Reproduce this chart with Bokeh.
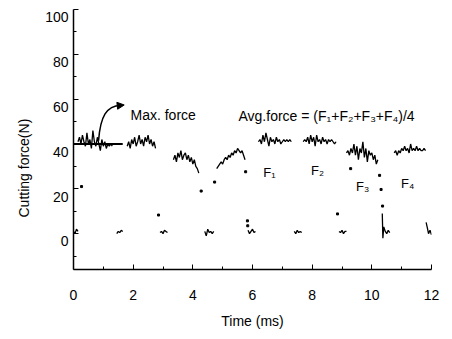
import math
from bokeh.plotting import figure
from bokeh.models import Range1d, FixedTicker, Label, Arrow, NormalHead, LinearAxis, Title
from bokeh.embed import file_html
from bokeh.resources import INLINE

FONT = "Liberation Sans"

x_ticks = [0, 2, 4, 6, 8, 10, 12]
x_minor = [1, 3, 5, 7, 9, 11]
y_ticks = [0, 20, 40, 60, 80, 100]
y_minor = [-10, 10, 30, 50, 70, 90]

# high (cutting) segments: time (ms), force (N)
seg1_t = [0.15, 0.20, 0.25, 0.30, 0.35, 0.40, 0.45, 0.50, 0.55, 0.60, 0.65, 0.70,
          0.75, 0.80, 0.85, 0.90, 0.95, 1.00, 1.05, 1.10, 1.15, 1.20, 1.25, 1.30]
seg1_f = [41, 43, 40, 44, 41, 39, 45, 40, 42, 38, 46, 41,
          39, 43, 40, 37, 42, 39, 41, 38, 40, 39, 40, 39]
seg2_t = [1.80, 1.85, 1.90, 1.95, 2.00, 2.05, 2.10, 2.15, 2.20, 2.25, 2.30, 2.35,
          2.40, 2.45, 2.50, 2.55, 2.60, 2.65, 2.70, 2.75]
seg2_f = [39, 41, 38, 42, 40, 43, 39, 41, 44, 40, 42, 39,
          43, 41, 44, 40, 42, 39, 41, 38]
seg3_t = [3.35, 3.40, 3.45, 3.50, 3.55, 3.60, 3.65, 3.70, 3.75, 3.80, 3.85, 3.90,
          3.95, 4.00, 4.05, 4.10, 4.15, 4.20]
seg3_f = [33, 35, 32, 36, 34, 37, 33, 35, 36, 33, 35, 32,
          34, 31, 33, 30, 29, 27]
seg4_t = [4.80, 4.85, 4.90, 4.95, 5.00, 5.05, 5.10, 5.15, 5.20, 5.25, 5.30, 5.35,
          5.40, 5.45, 5.50, 5.55, 5.60, 5.65, 5.70, 5.75]
seg4_f = [29, 30, 31, 32, 31, 33, 34, 33, 35, 34, 36, 35,
          37, 36, 38, 37, 36, 37, 35, 33]
f1_t = [6.20, 6.25, 6.30, 6.35, 6.40, 6.45, 6.50, 6.55, 6.60, 6.65, 6.70, 6.75,
        6.80, 6.85, 6.90, 6.95, 7.00, 7.05, 7.10, 7.15, 7.20, 7.25, 7.30]
f1_f = [41, 42, 40, 44, 41, 45, 42, 39, 43, 41, 42, 40,
        43, 41, 42, 40, 41, 42, 41, 42, 41, 42, 41]
f2_t = [7.70, 7.75, 7.80, 7.85, 7.90, 7.95, 8.00, 8.05, 8.10, 8.15, 8.20, 8.25,
        8.30, 8.35, 8.40, 8.45, 8.50, 8.55, 8.60, 8.65, 8.70, 8.75, 8.80]
f2_f = [41, 42, 41, 43, 40, 44, 41, 43, 39, 44, 41, 42,
        40, 43, 41, 42, 40, 42, 41, 42, 41, 40, 41]
f3_t = [9.15, 9.20, 9.25, 9.30, 9.35, 9.40, 9.45, 9.50, 9.55, 9.60, 9.65, 9.70,
        9.75, 9.80, 9.85, 9.90, 9.95, 10.00, 10.05, 10.10, 10.15, 10.20]
f3_f = [36, 37, 35, 38, 36, 40, 35, 39, 33, 38, 36, 41,
        34, 38, 32, 37, 35, 36, 33, 35, 31, 33]
f4_t = [10.75, 10.80, 10.85, 10.90, 10.95, 11.00, 11.05, 11.10, 11.15, 11.20, 11.25,
        11.30, 11.35, 11.40, 11.45, 11.50, 11.55, 11.60, 11.65, 11.70, 11.75, 11.80]
f4_f = [36, 37, 35, 37, 36, 38, 37, 39, 37, 38, 36,
        40, 37, 38, 37, 39, 37, 38, 37, 37, 38, 37]

# low (idle) segments
low1_t = [0.00, 0.05, 0.10, 0.15]
low1_f = [1, 0, 2, 1]
low2_t = [1.45, 1.50, 1.55, 1.60, 1.65]
low2_f = [0, 1, 0.5, 1.5, 1]
low3_t = [2.90, 2.95, 3.00, 3.05, 3.10, 3.15]
low3_f = [0.5, 1, 0, 1.5, 1, 0.5]
low4_t = [4.40, 4.45, 4.50, 4.55, 4.60, 4.65, 4.70]
low4_f = [1, -1, 2, 0.5, 1, 0, 1]
low5_t = [5.85, 5.90, 5.95, 6.00, 6.05, 6.10]
low5_f = [1.5, 0, 1, 2, 0.5, 1]
low6_t = [7.40, 7.45, 7.50, 7.55, 7.60, 7.65]
low6_f = [1, 0, 1.5, 0.5, 1, 0.5]
low7_t = [8.90, 8.95, 9.00, 9.05, 9.10, 9.15]
low7_f = [1, 0.5, 1.5, 0, 1, 1]
low8_t = [10.35, 10.37, 10.40, 10.45, 10.50, 10.55, 10.60]
low8_f = [9, -2, 3, 1, 0, 1.5, 0.5]
low9_t = [11.82, 11.87, 11.90, 11.95, 12.00]
low9_f = [5, 2, 0, 1.5, -0.5]

# isolated transition samples
dot_t = [0.27, 2.85, 4.28, 4.73, 5.77, 5.83, 5.84, 8.85, 9.29, 10.26, 10.31, 10.36]
dot_f = [21, 8.3, 19, 23, 27.6, 5.7, 3.5, 8.8, 29, 26, 19.7, 12.3]

max_force = 40
max_line_t = [0.0, 1.65]

seg_ts = [seg1_t, seg2_t, seg3_t, seg4_t, f1_t, f2_t, f3_t, f4_t,
          low1_t, low2_t, low3_t, low4_t, low5_t, low6_t, low7_t, low8_t, low9_t]
seg_fs = [seg1_f, seg2_f, seg3_f, seg4_f, f1_f, f2_f, f3_f, f4_f,
          low1_f, low2_f, low3_f, low4_f, low5_f, low6_f, low7_f, low8_f, low9_f]

f_labels = ["F\u2081", "F\u2082", "F\u2083", "F\u2084"]
f_label_t = [6.57, 8.18, 9.69, 11.2]
f_label_f = [27.2, 28, 21, 22.4]

Y_LO, Y_HI = -16, 100
LABEL_SHIFT = 3.5  # tick labels sit slightly below their ticks in the original

p = figure(width=444, height=331, output_backend="svg", toolbar_location=None,
           x_range=Range1d(0, 12), y_range=Range1d(Y_LO, Y_HI),
           min_border_left=73, min_border_right=13, min_border_top=9, min_border_bottom=57)
p.outline_line_color = None
p.xgrid.visible = False
p.ygrid.visible = False
p.background_fill_color = "white"
p.border_fill_color = "white"
p.extra_y_ranges = {"lab": Range1d(Y_LO + LABEL_SHIFT, Y_HI + LABEL_SHIFT)}

p.multi_line(xs=seg_ts, ys=seg_fs, line_color="black", line_width=1.3)
p.scatter(dot_t, dot_f, size=2, marker="square", color="black")
p.line(max_line_t, [max_force, max_force], line_color="black", line_width=2)

# curved arrow from max force line to the label
p.bezier(x0=[0.84], y0=[41.5], x1=[1.62], y1=[57.2],
         cx0=[0.90], cy0=[52], cx1=[1.10], cy1=[57.5], line_color="black", line_width=1.5)
p.add_layout(Arrow(end=NormalHead(size=7, fill_color="black", line_color="black"),
                   x_start=1.5, y_start=57.1, x_end=1.70, y_end=57.4, line_alpha=0))

p.add_layout(Label(x=1.91, y=53, text="Max. force", text_font=FONT, text_font_size="14px",
                   text_baseline="middle", text_align="left", text_color="black"))
p.add_layout(Label(x=5.53, y=52.6, text="Avg.force = (F\u2081+F\u2082+F\u2083+F\u2084)/4",
                   text_font=FONT, text_font_size="14px", text_baseline="middle",
                   text_align="left", text_color="black"))
for s, t, f in zip(f_labels, f_label_t, f_label_f):
    p.add_layout(Label(x=t, y=f, text=s, text_font=FONT, text_font_size="13px",
                       text_baseline="middle", text_align="center", text_color="black"))

for ax in (p.xaxis[0], p.yaxis[0]):
    ax.axis_line_color = "black"
    ax.axis_line_width = 1.5
    ax.major_tick_line_color = "black"
    ax.minor_tick_line_color = "black"
    ax.major_tick_out = 0
    ax.major_tick_in = 5
    ax.minor_tick_out = 0
    ax.minor_tick_in = 3
    ax.major_label_text_font = FONT
    ax.major_label_text_font_size = "14px"
    ax.major_label_text_color = "black"

p.xaxis.ticker = FixedTicker(ticks=x_ticks, minor_ticks=x_minor)
p.xaxis.major_label_standoff = 20
p.xaxis.axis_label = "Time (ms)"
p.xaxis.axis_label_text_font = FONT
p.xaxis.axis_label_text_font_size = "14px"
p.xaxis.axis_label_text_font_style = "normal"
p.xaxis.axis_label_text_color = "black"
p.xaxis.axis_label_standoff = 10

# left axis: line and ticks only
p.yaxis.ticker = FixedTicker(ticks=y_ticks, minor_ticks=y_minor)
p.yaxis.major_label_standoff = 0
p.yaxis.major_label_overrides = {t: "" for t in y_ticks}

# tick labels, drawn slightly lower as in the scanned original
lab_axis = LinearAxis(y_range_name="lab", ticker=FixedTicker(ticks=y_ticks, minor_ticks=[]),
                      axis_line_color=None, major_tick_line_color=None, minor_tick_line_color=None,
                      major_tick_in=0, major_tick_out=0, major_label_standoff=5,
                      major_label_text_font=FONT, major_label_text_font_size="14px",
                      major_label_text_color="black")
p.add_layout(lab_axis, "left")

p.add_layout(Title(text="Cutting force(N)", align="left", offset=52, standoff=22,
                   text_font=FONT, text_font_size="14px", text_font_style="normal",
                   text_color="black"), "left")

open("out.html", "w").write(file_html(p, INLINE))
